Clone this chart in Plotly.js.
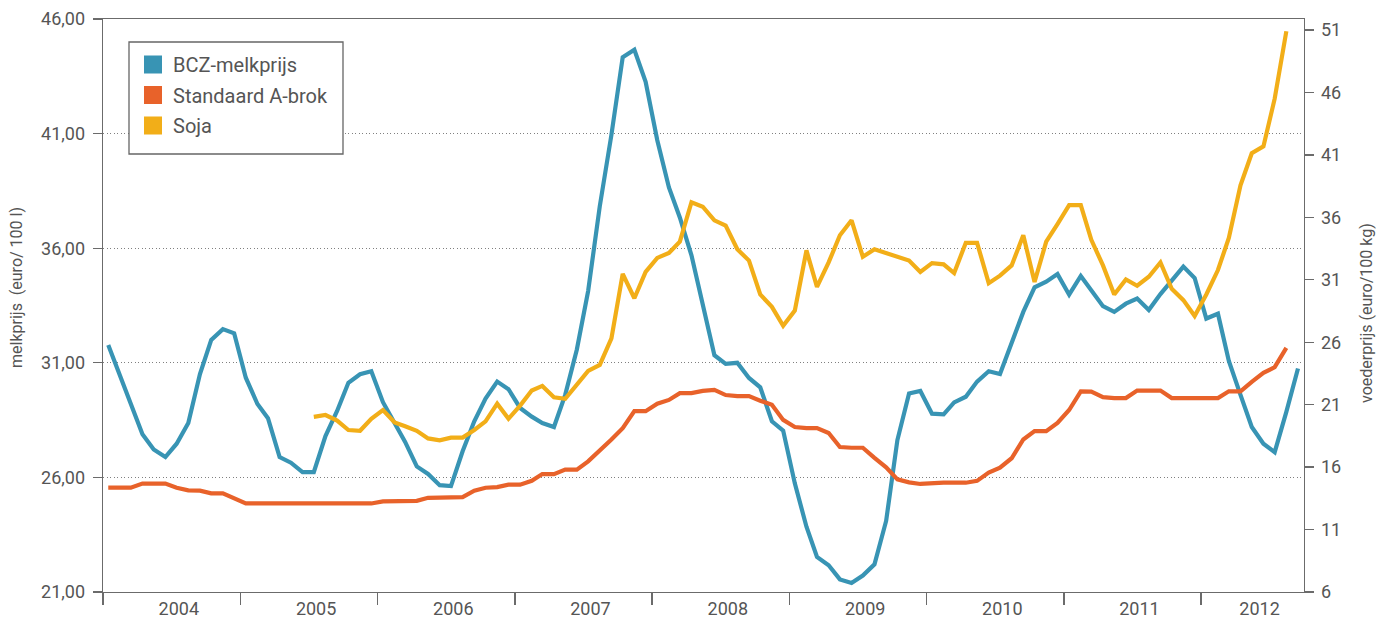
<!DOCTYPE html>
<html>
<head>
<meta charset="utf-8">
<script src="https://cdn.plot.ly/plotly-3.0.1.min.js"></script>
<style>html,body{margin:0;padding:0;background:#fff}#chart{width:1391px;height:625px}</style>
</head>
<body>
<div id="chart"></div>
<script>
// ---- data (monthly, starting Jan 2004) ----
const startYear = 2004;
const yearLabels = ['2004','2005','2006','2007','2008','2009','2010','2011','2012'];

// BCZ-melkprijs (euro / 100 l), Jan 2004 - Sep 2012
const melkprijs = [
  31.78, 30.48, 29.18, 27.88, 27.22, 26.89, 27.47, 28.37, 30.51, 32.00, 32.47, 32.29,
  30.35, 29.20, 28.58, 26.89, 26.64, 26.23, 26.23, 27.80, 28.90, 30.13, 30.50, 30.63,
  29.28, 28.37, 27.55, 26.48, 26.15, 25.66, 25.62, 27.14, 28.45, 29.44, 30.18, 29.85,
  29.03, 28.65, 28.37, 28.20, 29.60, 31.58, 34.13, 37.83, 40.95, 44.33, 44.66, 43.26,
  40.71, 38.65, 37.34, 35.69, 33.60, 31.33, 30.95, 31.00, 30.34, 29.93, 28.45, 28.04,
  25.74, 23.85, 22.53, 22.17, 21.55, 21.39, 21.72, 22.21, 24.10, 27.63, 29.66, 29.77,
  28.78, 28.75, 29.27, 29.52, 30.18, 30.63, 30.51, 31.91, 33.22, 34.29, 34.54, 34.87,
  33.97, 34.79, 34.13, 33.47, 33.22, 33.58, 33.80, 33.30, 34.00, 34.57, 35.20, 34.70,
  32.93, 33.14, 31.08, 29.60, 28.20, 27.47, 27.10, 28.86, 30.75
];

// Standaard A-brok (euro / 100 kg), Jan 2004 - Aug 2012
const aBrok = [
  14.35, 14.35, 14.35, 14.68, 14.68, 14.68, 14.35, 14.14, 14.12, 13.90, 13.90, 13.48,
  13.09, 13.09, 13.09, 13.09, 13.09, 13.09, 13.09, 13.09, 13.09, 13.09, 13.09, 13.09,
  13.26, 13.26, 13.26, 13.30, 13.54, 13.54, 13.54, 13.60, 14.11, 14.35, 14.40, 14.59,
  14.59, 14.90, 15.44, 15.44, 15.80, 15.80, 16.46, 17.31, 18.21, 19.12, 20.48, 20.48,
  21.08, 21.38, 21.92, 21.92, 22.10, 22.19, 21.77, 21.68, 21.68, 21.32, 20.99, 19.78,
  19.21, 19.12, 19.12, 18.73, 17.61, 17.55, 17.55, 16.74, 15.98, 15.02, 14.78, 14.65,
  14.72, 14.75, 14.75, 14.75, 14.90, 15.56, 15.95, 16.71, 18.21, 18.88, 18.88, 19.54,
  20.57, 22.07, 22.04, 21.60, 21.53, 21.53, 22.13, 22.13, 22.13, 21.53, 21.53, 21.53,
  21.53, 21.53, 22.07, 22.07, 22.83, 23.55, 24.00, 25.54
];

// Soja (euro / 100 kg), Jul 2005 - Aug 2012
const sojaStartMonth = 18;
const soja = [
  20.02, 20.17, 19.72, 18.97, 18.91, 19.87,
  20.57, 19.57, 19.27, 18.91, 18.30, 18.15, 18.36, 18.36, 18.97, 19.66, 21.08, 19.87,
  20.93, 22.13, 22.50, 21.59, 21.47, 22.59, 23.70, 24.18, 26.30, 31.48, 29.52, 31.63,
  32.75, 33.14, 34.05, 37.21, 36.85, 35.76, 35.34, 33.44, 32.54, 29.82, 28.83, 27.32,
  28.53, 33.35, 30.43, 32.39, 34.56, 35.76, 32.84, 33.44, 33.14, 32.84, 32.54, 31.63,
  32.33, 32.24, 31.54, 33.96, 33.96, 30.73, 31.33, 32.15, 34.56, 30.82, 34.05, 35.46,
  36.97, 36.97, 34.20, 32.15, 29.82, 31.03, 30.52, 31.24, 32.39, 30.28, 29.37, 28.10,
  29.82, 31.78, 34.35, 38.57, 41.13, 41.68, 45.50, 50.90
];

const seriesNames = ['BCZ-melkprijs', 'Standaard A-brok', 'Soja'];
const seriesColors = ['#3894b4', '#e8622a', '#f2ae18'];

// ---- helpers ----
function monthDate(i) {
  const y = startYear + Math.floor(i / 12);
  const m = (i % 12) + 1;
  return y + '-' + String(m).padStart(2, '0') + '-15';
}
const xMelk = melkprijs.map((_, i) => monthDate(i));
const xBrok = aBrok.map((_, i) => monthDate(i));
const xSoja = soja.map((_, i) => monthDate(i + sojaStartMonth));

const rangeStart = '2004-01-01';
const rangeEnd = '2012-10-01';
const rEndMs = Date.UTC(2012, 9, 1);
const yearStarts = yearLabels.map(y => y + '-01-01');
const labelPos = yearLabels.map(y => {
  const a = Date.UTC(+y, 0, 1);
  const b = Math.min(Date.UTC(+y + 1, 0, 1), rEndMs);
  return new Date((a + b) / 2).toISOString().replace('T', ' ').slice(0, 19);
});

const fontFam = 'Roboto, "Open Sans", sans-serif';
const txt = '#555';
const axc = '#6b6b6b';

const traces = [
  {x: xMelk, y: melkprijs, type: 'scatter', mode: 'lines', yaxis: 'y',
   line: {color: seriesColors[0], width: 4.2}, showlegend: false},
  {x: xBrok, y: aBrok, type: 'scatter', mode: 'lines', yaxis: 'y2',
   line: {color: seriesColors[1], width: 4.2}, showlegend: false},
  {x: xSoja, y: soja, type: 'scatter', mode: 'lines', yaxis: 'y2',
   line: {color: seriesColors[2], width: 4.2}, showlegend: false}
];
seriesNames.forEach((n, i) => {
  traces.push({x: [null], y: [null], type: 'scatter', mode: 'markers', name: n,
    legendgroup: 'g' + i,
    marker: {symbol: 'square', size: 16, color: seriesColors[i],
             line: {color: seriesColors[i], width: 2}}});
});

const W = 1391, H = 625, L = 103, R = 87, T = 19, B = 33;
const pw = W - L - R, ph = H - T - B;
const px = x => (x - L) / pw;
const py = y => (H - B - y) / ph;

const layout = {
  width: W, height: H,
  margin: {l: L, r: R, t: T, b: B, pad: 0},
  paper_bgcolor: '#fff', plot_bgcolor: '#fff',
  separators: ',.',
  font: {family: fontFam, color: txt, size: 18},
  showlegend: true,
  legend: {
    x: px(133), y: py(45), xanchor: 'left', yanchor: 'top',
    bgcolor: 'rgba(0,0,0,0)', borderwidth: 0,
    font: {family: fontFam, size: 20, color: txt},
    tracegroupgap: 1.5, itemsizing: 'trace', traceorder: 'grouped'
  },
  xaxis: {
    type: 'date', range: [rangeStart, rangeEnd],
    tickmode: 'array', tickvals: labelPos, ticktext: yearLabels,
    ticks: '', ticklabelshift: 7,
    tickfont: {family: fontFam, size: 18, color: txt},
    showgrid: false, zeroline: false,
    showline: true, linecolor: axc, linewidth: 1.3, mirror: true,
    minor: {tickmode: 'array', tickvals: yearStarts, ticks: 'outside', ticklen: 12,
            tickcolor: axc, tickwidth: 1.3, showgrid: false}
  },
  yaxis: {
    range: [21, 46], tick0: 21, dtick: 5, tickformat: '.2f',
    ticks: 'outside', ticklen: 9, tickcolor: axc, tickwidth: 1.3,
    ticklabelstandoff: 4,
    tickfont: {family: fontFam, size: 18, color: txt},
    showline: true, linecolor: axc, linewidth: 1.3,
    showgrid: true, gridcolor: '#808080', gridwidth: 1, griddash: '1px,2.5px',
    zeroline: false
  },
  yaxis2: {
    overlaying: 'y', side: 'right',
    range: [6, 51.88], tick0: 6, dtick: 5, tickformat: 'd',
    ticks: 'outside', ticklen: 9, tickcolor: axc, tickwidth: 1.3,
    ticklabelstandoff: 3,
    tickfont: {family: fontFam, size: 18, color: txt},
    showline: true, linecolor: axc, linewidth: 1.3,
    showgrid: false, zeroline: false
  },
  shapes: [
    {type: 'rect', xref: 'paper', yref: 'paper', layer: 'above',
     x0: px(129), x1: px(343), y0: py(154), y1: py(42),
     fillcolor: '#fff', line: {color: '#666', width: 1.3}}
  ],
  annotations: [
    {text: 'melkprijs\u00a0 (euro/ 100 l)', xref: 'paper', yref: 'paper',
     x: px(16), y: py(288), textangle: -90, showarrow: false,
     xanchor: 'center', yanchor: 'middle', font: {family: fontFam, size: 16, color: txt}},
    {text: 'voederprijs (euro/100 kg)', xref: 'paper', yref: 'paper',
     x: px(1366), y: py(313), textangle: -90, showarrow: false,
     xanchor: 'center', yanchor: 'middle', font: {family: fontFam, size: 16, color: txt}}
  ]
};

Plotly.newPlot('chart', traces, layout, {displayModeBar: false, staticPlot: true});
</script>
</body>
</html>
